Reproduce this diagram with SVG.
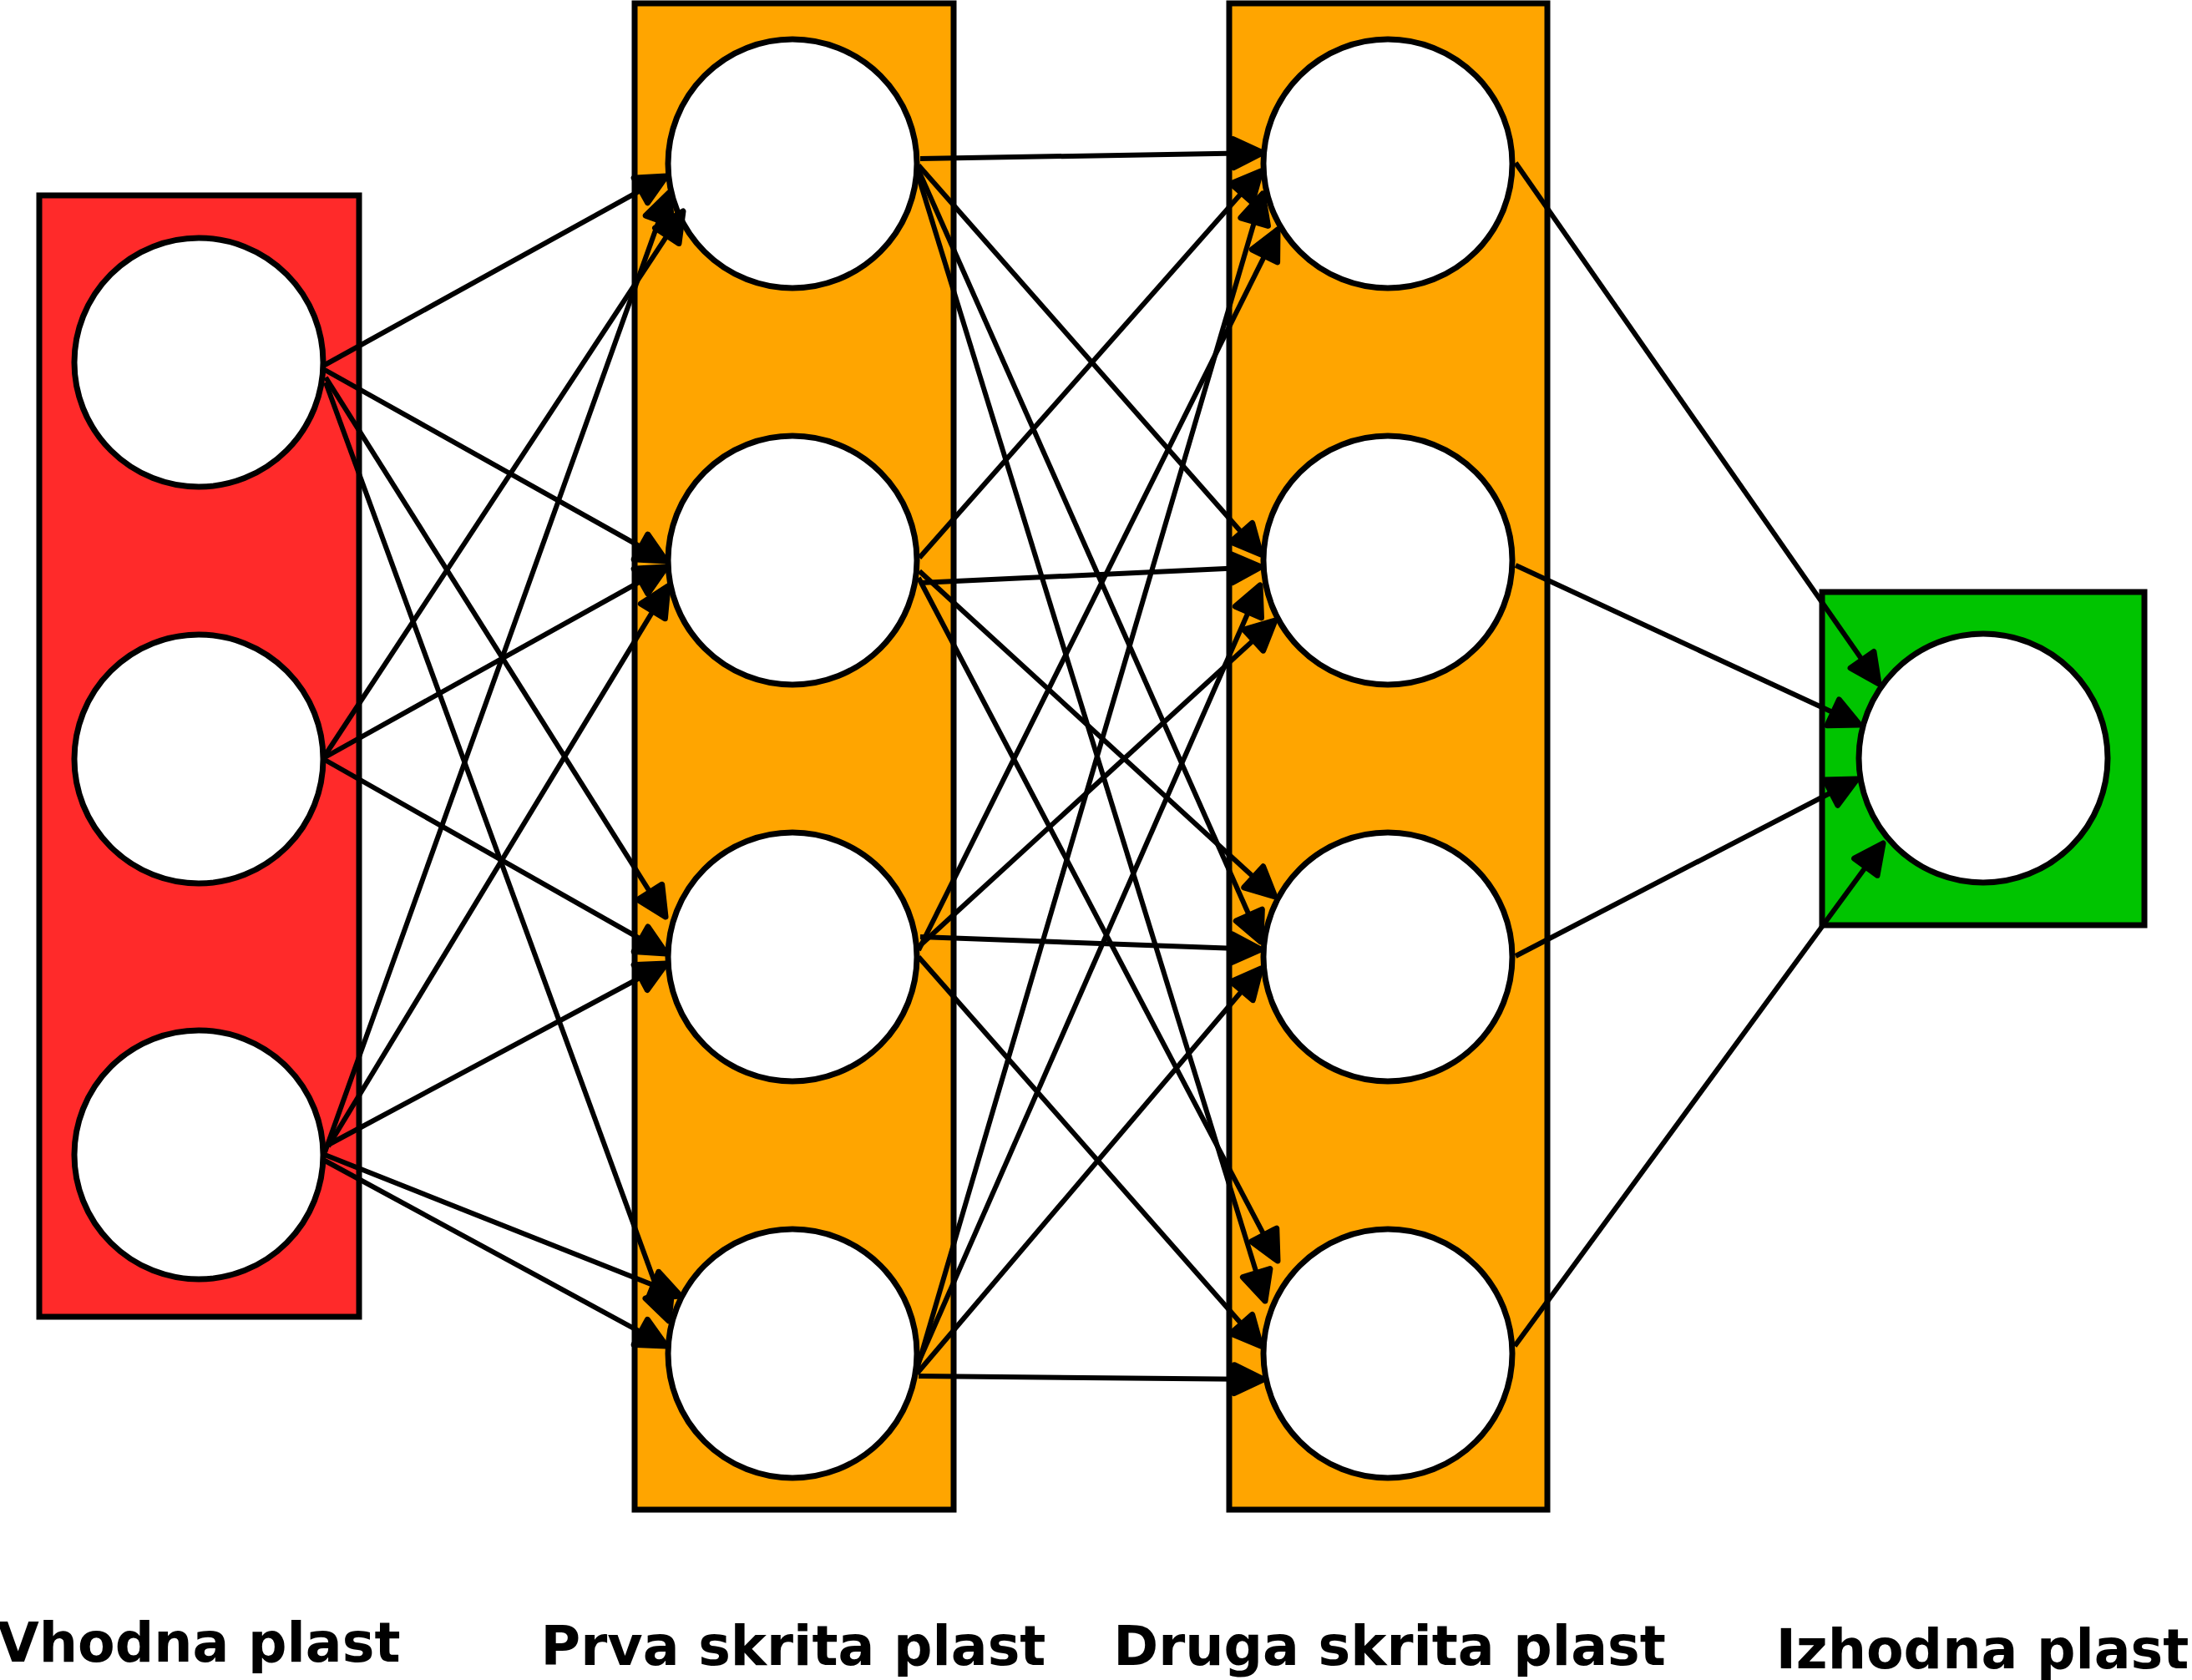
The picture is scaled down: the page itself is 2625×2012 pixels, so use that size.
<svg xmlns="http://www.w3.org/2000/svg" width="2625" height="2012" viewBox="0 0 2625 2012">
<style>
.layer{stroke:#000;stroke-width:7}
.neuron{fill:#fff;stroke:#000;stroke-width:7}
.edge{stroke:#000;stroke-width:6;fill:none;marker-end:url(#arr)}
.lbl{font-family:"DejaVu Sans","Liberation Sans",sans-serif;font-weight:bold;font-size:65px;text-anchor:middle;fill:#000}
</style>
<defs>
<marker id="arr" markerUnits="userSpaceOnUse" markerWidth="56" markerHeight="56" viewBox="-8 -28 56 56" refX="35" refY="0" orient="auto">
<path d="M0,-17 L35,0 L0,17 Z" fill="#000" stroke="#000" stroke-width="7" stroke-linejoin="round"/>
</marker>
</defs>
<rect width="2625" height="2012" fill="#fff"/>
<g id="layer-input">
<rect class="layer" x="47" y="234" width="383" height="1343" fill="#ff2a2a"/>
</g>
<g id="layer-hidden1">
<rect class="layer" x="760" y="4" width="382" height="1804" fill="#ffa500"/>
</g>
<g id="layer-hidden2">
<rect class="layer" x="1472" y="4" width="381" height="1804" fill="#ffa500"/>
</g>
<g id="layer-output">
<rect class="layer" x="2182" y="709" width="386" height="399" fill="#00c400"/>
</g>
<g id="in1"><circle class="neuron" cx="238" cy="434" r="149"/></g>
<g id="in2"><circle class="neuron" cx="238" cy="909" r="149"/></g>
<g id="in3"><circle class="neuron" cx="238" cy="1383" r="149"/></g>
<g id="h1n1"><circle class="neuron" cx="949" cy="196" r="149"/></g>
<g id="h1n2"><circle class="neuron" cx="949" cy="671" r="149"/></g>
<g id="h1n3"><circle class="neuron" cx="949" cy="1146" r="149"/></g>
<g id="h1n4"><circle class="neuron" cx="949" cy="1621" r="149"/></g>
<g id="h2n1"><circle class="neuron" cx="1662" cy="196" r="149"/></g>
<g id="h2n2"><circle class="neuron" cx="1662" cy="671" r="149"/></g>
<g id="h2n3"><circle class="neuron" cx="1662" cy="1146" r="149"/></g>
<g id="h2n4"><circle class="neuron" cx="1662" cy="1621" r="149"/></g>
<g id="out1"><circle class="neuron" cx="2375" cy="908" r="149"/></g>
<g id="connectors">
<line class="edge" x1="389" y1="437" x2="798" y2="211"/>
<line class="edge" x1="389" y1="443" x2="798" y2="672"/>
<line class="edge" x1="390" y1="452" x2="797" y2="1098"/>
<line class="edge" x1="390" y1="458" x2="801" y2="1582"/>
<line class="edge" x1="389" y1="905" x2="818" y2="253"/>
<line class="edge" x1="389" y1="907" x2="798" y2="679"/>
<line class="edge" x1="389" y1="910" x2="798" y2="1142"/>
<line class="edge" x1="389" y1="1380" x2="801" y2="231"/>
<line class="edge" x1="393" y1="1373" x2="800" y2="702"/>
<line class="edge" x1="395" y1="1370" x2="798" y2="1154"/>
<line class="edge" x1="389" y1="1383" x2="815" y2="1552"/>
<line class="edge" x1="389" y1="1390" x2="798" y2="1612"/>
<line class="edge" x1="1102" y1="190" x2="1512" y2="183"/>
<line class="edge" x1="1100" y1="198" x2="1510" y2="664"/>
<line class="edge" x1="1100" y1="204" x2="1510" y2="1128"/>
<line class="edge" x1="1100" y1="212" x2="1515" y2="1558"/>
<line class="edge" x1="1101" y1="668" x2="1510" y2="205"/>
<line class="edge" x1="1102" y1="698" x2="1510" y2="679"/>
<line class="edge" x1="1101" y1="684" x2="1527" y2="1074"/>
<line class="edge" x1="1100" y1="692" x2="1530" y2="1510"/>
<line class="edge" x1="1100" y1="1138" x2="1530" y2="275"/>
<line class="edge" x1="1100" y1="1134" x2="1527" y2="743"/>
<line class="edge" x1="1102" y1="1122" x2="1510" y2="1137"/>
<line class="edge" x1="1100" y1="1146" x2="1510" y2="1612"/>
<line class="edge" x1="1098" y1="1640" x2="1512" y2="232"/>
<line class="edge" x1="1098" y1="1636" x2="1509" y2="701"/>
<line class="edge" x1="1098" y1="1645" x2="1510" y2="1160"/>
<line class="edge" x1="1100" y1="1648" x2="1513" y2="1652"/>
<line class="edge" x1="1815" y1="195" x2="2250" y2="819"/>
<line class="edge" x1="1815" y1="677" x2="2227" y2="868"/>
<line class="edge" x1="1815" y1="1145" x2="2224" y2="933"/>
<line class="edge" x1="1814" y1="1612" x2="2255" y2="1010"/>
</g>
<g id="labels">
<text class="lbl" x="238" y="1990">Vhodna plast</text>
<text class="lbl" x="950" y="1994">Prva skrita plast</text>
<text class="lbl" x="1664" y="1994">Druga skrita plast</text>
<text class="lbl" x="2374" y="1998">Izhodna plast</text>
</g>
</svg>
